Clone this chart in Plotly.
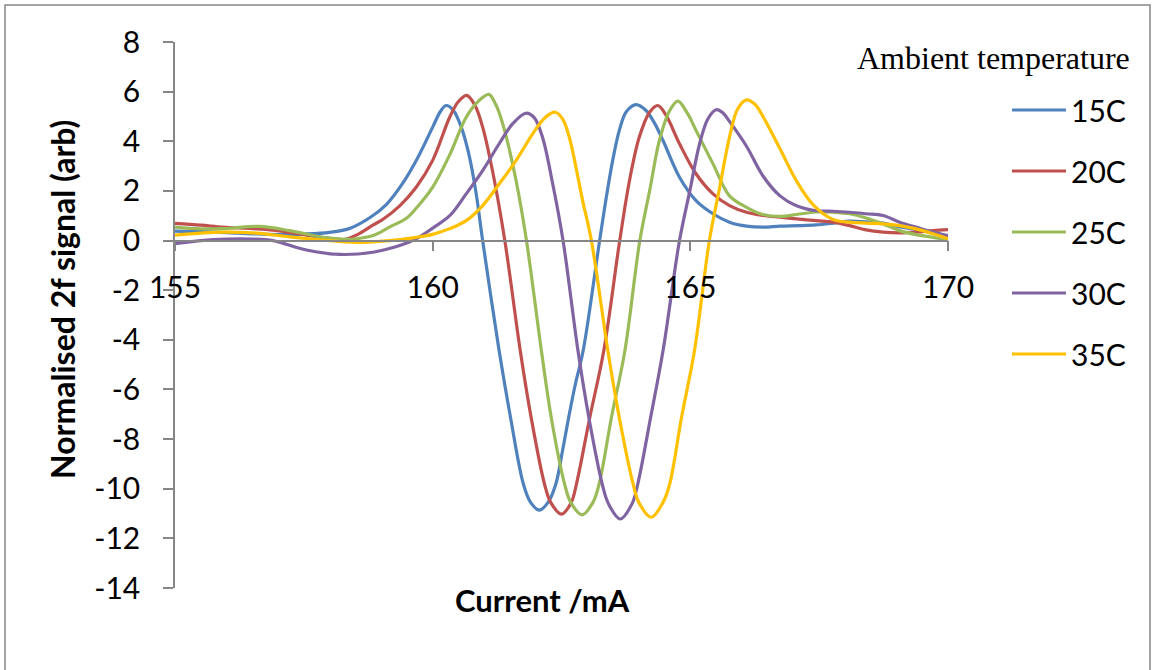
import plotly.graph_objects as go

# ---- data: 2f signal versus laser current for each ambient temperature ----
series_names = ["15C", "20C", "25C", "30C", "35C"]
series_colors = ["#4F81BD", "#C0504D", "#9BBB59", "#8064A2", "#FFC000"]

cur_15c = [155, 155.5, 156.0, 156.5, 157.0, 157.5, 158.0, 158.4, 158.8, 159.1,
           159.4, 159.7, 160.0, 160.15, 160.26, 160.4, 160.55, 160.7, 160.84, 160.97,
           161.29, 161.51, 161.76, 161.9, 162.07, 162.24, 162.39, 162.52, 162.64, 162.77,
           162.92, 163.24, 163.37, 163.5, 163.63, 163.76, 163.95, 164.14, 164.3, 164.47,
           164.79, 165.11, 165.44, 165.76, 166.09, 166.41, 166.74, 167.12, 167.44, 167.77,
           168.09, 168.41, 168.74, 169.06, 169.38, 169.71, 170]
sig_15c = [0.38, 0.36, 0.32, 0.27, 0.24, 0.26, 0.33, 0.5, 0.95, 1.45,
           2.25, 3.3, 4.57, 5.2, 5.44, 5.25, 4.6, 3.5, 1.95, 0.0,
           -4.44, -7.12, -9.81, -10.55, -10.86, -10.55, -9.81, -8.47, -7.12, -5.78,
           -4.44, 0.0, 1.75, 3.3, 4.5, 5.2, 5.48, 5.24, 4.75, 4.03,
           2.55, 1.61, 1.08, 0.74, 0.58, 0.54, 0.58, 0.60, 0.63, 0.70,
           0.78, 0.75, 0.70, 0.55, 0.45, 0.30, 0.15]

cur_20c = [155, 155.5, 155.93, 156.5, 156.9, 157.55, 158.06, 158.3, 158.55, 158.84,
           159.03, 159.36, 159.68, 160.0, 160.33, 160.5, 160.66, 160.82, 160.97, 161.16,
           161.4, 161.7, 161.91, 162.17, 162.29, 162.5, 162.69, 162.79, 163.05, 163.32,
           163.63, 163.82, 164.01, 164.21, 164.37, 164.53, 164.79, 165.11, 165.44, 165.76,
           166.09, 166.41, 166.74, 167.06, 167.44, 167.77, 168.09, 168.41, 168.74, 169.06,
           169.38, 169.71, 170]
sig_20c = [0.69, 0.62, 0.54, 0.48, 0.42, 0.22, 0.07, 0.05, 0.25, 0.62,
           0.85, 1.4, 2.15, 3.23, 4.97, 5.6, 5.85, 5.45, 4.57, 2.82,
           0.0, -4.44, -7.12, -9.81, -10.55, -11.02, -10.55, -9.81, -7.12, -4.44,
           0.0, 2.42, 4.17, 5.17, 5.44, 5.04, 3.90, 2.69, 1.88, 1.41,
           1.14, 1.01, 0.94, 0.87, 0.80, 0.74, 0.60, 0.43, 0.34, 0.31,
           0.34, 0.40, 0.44]

cur_25c = [155, 155.5, 155.93, 156.64, 157.22, 157.87, 158.3, 158.52, 158.84, 159.16,
           159.49, 159.68, 160.0, 160.33, 160.65, 160.88, 161.09, 161.22, 161.36, 161.62,
           161.82, 162.11, 162.3, 162.56, 162.68, 162.9, 163.11, 163.23, 163.47, 163.73,
           164.02, 164.21, 164.4, 164.6, 164.76, 164.95, 165.11, 165.44, 165.76, 166.09,
           166.41, 166.74, 167.06, 167.44, 167.77, 168.09, 168.41, 168.74, 169.06, 169.38,
           169.71, 170]
sig_25c = [0.54, 0.47, 0.48, 0.57, 0.40, 0.13, 0.05, 0.07, 0.2, 0.54,
           0.9, 1.3, 2.15, 3.45, 4.97, 5.6, 5.89, 5.5, 4.7, 2.4,
           0.0, -4.44, -7.12, -9.81, -10.55, -11.05, -10.55, -9.81, -7.12, -4.44,
           0.0, 2.0, 4.03, 5.24, 5.62, 5.1, 4.44, 3.09, 1.8, 1.34,
           1.05, 0.97, 1.05, 1.15, 1.14, 1.08, 0.91, 0.67, 0.40, 0.24,
           0.13, 0.03]

cur_30c = [155, 155.5, 156.0, 156.5, 156.9, 157.55, 158.2, 158.84, 159.36, 159.68,
           160.0, 160.33, 160.65, 160.97, 161.29, 161.55, 161.81, 161.97, 162.13, 162.33,
           162.53, 162.82, 163.03, 163.29, 163.41, 163.64, 163.87, 163.98, 164.23, 164.47,
           164.79, 164.99, 165.18, 165.34, 165.5, 165.63, 165.76, 166.09, 166.41, 166.74,
           167.06, 167.44, 167.77, 168.09, 168.41, 168.74, 169.06, 169.38, 169.71, 170]
sig_30c = [-0.13, 0.0, 0.06, 0.06, 0.0, -0.38, -0.56, -0.47, -0.2, 0.07,
           0.5, 1.0, 1.88, 2.82, 3.9, 4.7, 5.13, 4.95, 4.17, 2.28,
           0.0, -4.44, -7.12, -9.81, -10.6, -11.22, -10.6, -9.81, -7.12, -4.44,
           0.0, 2.0, 3.9, 4.9, 5.27, 5.15, 4.8, 3.8, 2.6, 1.8,
           1.4, 1.2, 1.18, 1.14, 1.08, 1.01, 0.74, 0.54, 0.34, 0.20]

cur_35c = [155, 155.93, 156.58, 157.22, 157.87, 158.52, 159.16, 159.68, 160.0, 160.33,
           160.65, 160.97, 161.29, 161.62, 161.94, 162.18, 162.38, 162.52, 162.65, 162.91,
           163.08, 163.4, 163.62, 163.89, 164.0, 164.24, 164.47, 164.6, 164.83, 165.08,
           165.37, 165.57, 165.76, 165.92, 166.09, 166.25, 166.41, 166.74, 167.06, 167.38,
           167.77, 168.09, 168.41, 168.74, 169.06, 169.38, 169.71, 170]
sig_35c = [0.22, 0.34, 0.3, 0.15, 0.02, -0.07, 0.0, 0.13, 0.25, 0.48,
           0.8, 1.41, 2.28, 3.23, 4.3, 4.95, 5.17, 4.9, 4.17, 1.61,
           0.0, -4.44, -7.12, -9.81, -10.55, -11.15, -10.55, -9.81, -7.12, -4.44,
           0.0, 2.15, 4.17, 5.31, 5.67, 5.5, 5.0, 3.7, 2.4, 1.45,
           0.85, 0.74, 0.70, 0.67, 0.60, 0.47, 0.27, 0.07]

currents = [cur_15c, cur_20c, cur_25c, cur_30c, cur_35c]
signals = [sig_15c, sig_20c, sig_25c, sig_30c, sig_35c]

x_tick_vals = [155, 160, 165, 170]
x_tick_text = ["155", "160", "165", "170"]
y_tick_vals = [-14, -12, -10, -8, -6, -4, -2, 0, 2, 4, 6, 8]
y_tick_text = ["-14", "-12", "-10", "-8", "-6", "-4", "-2", "0", "2", "4", "6", "8"]

# ---- page geometry ----
W, H = 1154, 670
ML, MR, MT, MB = 175, 206, 42, 82
PW, PH = W - ML - MR, H - MT - MB


def xp(px):
    return (px - ML) / PW


def yp(py):
    return (H - MB - py) / PH


AXIS_GREY = "#868686"
TICK_FONT = dict(family="Lato", size=30, color="black")

fig = go.Figure()
for name, color, cur, sig in zip(series_names, series_colors, currents, signals):
    fig.add_trace(go.Scatter(
        x=cur, y=sig, mode="lines", name=name, legendgroup=name,
        line=dict(color=color, width=3.2, shape="spline", smoothing=1.0),
        hoverinfo="x+y+name",
    ))

fig.update_layout(
    width=W, height=H,
    margin=dict(l=ML, r=MR, t=MT, b=MB, autoexpand=False),
    paper_bgcolor="white", plot_bgcolor="white",
    font=TICK_FONT,
    xaxis=dict(
        range=[155, 170], tickmode="array", tickvals=x_tick_vals, ticktext=x_tick_text,
        showgrid=False, zeroline=False, showline=True, linecolor=AXIS_GREY, linewidth=1.5,
        ticks="outside", ticklen=10, tickwidth=1.5, tickcolor=AXIS_GREY,
        anchor="free", position=14 / 22, ticklabelstandoff=11, tickfont=TICK_FONT,
    ),
    yaxis=dict(
        range=[-14, 8], domain=[0, 1], tickmode="array", tickvals=y_tick_vals, ticktext=y_tick_text,
        showgrid=False, zeroline=False, showline=True, linecolor=AXIS_GREY, linewidth=1.5,
        ticks="outside", ticklen=10, tickwidth=1.5, tickcolor=AXIS_GREY,
        ticklabelstandoff=17, tickfont=TICK_FONT,
    ),
    showlegend=True,
    legend=dict(
        x=xp(1007), y=yp(84), xanchor="left", yanchor="top",
        font=dict(family="Lato", size=30, color="black"),
        tracegroupgap=19, itemwidth=54, bgcolor="rgba(0,0,0,0)", borderwidth=0,
    ),
    annotations=[
        dict(text="<b>Normalised 2f signal (arb)</b>", xref="paper", yref="paper",
             x=xp(62), y=yp(300), textangle=-90, showarrow=False,
             font=dict(family="Lato", size=32, color="black"),
             xanchor="center", yanchor="middle"),
        dict(text="<b>Current /mA</b>", xref="paper", yref="paper",
             x=xp(542), y=yp(600), showarrow=False,
             font=dict(family="Lato", size=31, color="black"),
             xanchor="center", yanchor="middle"),
        dict(text="Ambient temperature", xref="paper", yref="paper",
             x=xp(855), y=yp(58), showarrow=False,
             font=dict(family="Liberation Serif", size=32, color="black"),
             xanchor="left", yanchor="middle"),
    ],
    shapes=[
        dict(type="rect", xref="paper", yref="paper",
             x0=xp(5), x1=xp(1150), y0=yp(680), y1=yp(5),
             line=dict(color=AXIS_GREY, width=1.5), fillcolor="rgba(0,0,0,0)", layer="below"),
    ],
)

fig.write_html("out.html")
